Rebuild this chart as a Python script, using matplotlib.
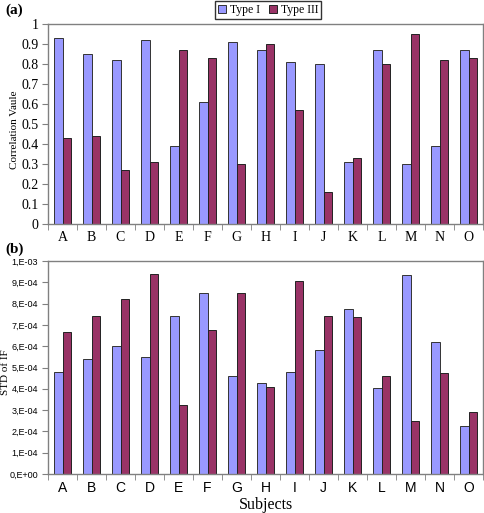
import matplotlib
matplotlib.use("Agg")
import matplotlib.pyplot as plt
import numpy as np
from matplotlib.ticker import FixedLocator

subjects = list("ABCDEFGHIJKLMNO")
corr_type1 = [0.93, 0.85, 0.82, 0.92, 0.39, 0.61, 0.91, 0.87, 0.81, 0.80, 0.31, 0.87, 0.30, 0.39, 0.87]
corr_type3 = [0.43, 0.44, 0.27, 0.31, 0.87, 0.83, 0.30, 0.90, 0.57, 0.16, 0.33, 0.80, 0.95, 0.82, 0.83]
std_type1 = [4.8e-4, 5.4e-4, 6.0e-4, 5.5e-4, 7.4e-4, 8.5e-4, 4.6e-4, 4.25e-4, 4.8e-4, 5.8e-4, 7.75e-4, 4.05e-4, 9.35e-4, 6.2e-4, 2.25e-4]
std_type3 = [6.65e-4, 7.4e-4, 8.2e-4, 9.4e-4, 3.25e-4, 6.75e-4, 8.5e-4, 4.1e-4, 9.05e-4, 7.4e-4, 7.35e-4, 4.6e-4, 2.5e-4, 4.75e-4, 2.9e-4]
corr_ticks = [0, 0.1, 0.2, 0.3, 0.4, 0.5, 0.6, 0.7, 0.8, 0.9, 1]
corr_labels = ["0", "0.1", "0.2", "0.3", "0.4", "0.5", "0.6", "0.7", "0.8", "0.9", "1"]
std_ticks = [0, 1e-4, 2e-4, 3e-4, 4e-4, 5e-4, 6e-4, 7e-4, 8e-4, 9e-4, 1e-3]
std_labels = ["0,E+00", "1,E-04", "2,E-04", "3,E-04", "4,E-04", "5,E-04", "6,E-04", "7,E-04", "8,E-04", "9,E-04", "1,E-03"]

c1 = "#9999FF"
c3 = "#993366"
serif = "Liberation Serif"
sans = "Liberation Sans"

fig = plt.figure(figsize=(4.84, 5.13), dpi=100)
ax1 = fig.add_axes([48/484, 1-224/513, 435/484, 200/513])
ax2 = fig.add_axes([48/484, 1-474/513, 435/484, 213/513])

x = np.arange(len(subjects))
w = 0.29

def style(ax, ylim, ticks):
    for s in ax.spines.values():
        s.set_color("#808080")
        s.set_linewidth(1.0)
    ax.set_xlim(-0.5, len(subjects) - 0.5)
    ax.set_ylim(*ylim)
    ax.yaxis.set_major_locator(FixedLocator(ticks))
    ax.set_xticks(x)
    ax.set_xticklabels(subjects)
    ax.tick_params(axis="x", which="major", length=0, pad=5)
    ax.set_xticks(np.arange(-0.5, len(subjects), 1.0), minor=True)
    ax.tick_params(axis="x", which="minor", length=4, color="#808080", direction="out")
    ax.tick_params(axis="y", length=4, color="#808080", direction="out", pad=3)

b1 = ax1.bar(x - w/2, corr_type1, w, color=c1, edgecolor="#333333", linewidth=0.7, label="Type I")
b3 = ax1.bar(x + w/2, corr_type3, w, color=c3, edgecolor="#222222", linewidth=0.7, label="Type III")
style(ax1, (0, 1), corr_ticks)
ax1.set_yticklabels(corr_labels, family=serif, fontsize=10)
for t in ax1.get_xticklabels():
    t.set_family(serif); t.set_fontsize(10)
ax1.set_ylabel("Correlation Vaule", family=serif, fontsize=8)
ax1.yaxis.set_label_coords(-29/435, 0.47)

ax2.bar(x - w/2, std_type1, w, color=c1, edgecolor="#333333", linewidth=0.7)
ax2.bar(x + w/2, std_type3, w, color=c3, edgecolor="#222222", linewidth=0.7)
style(ax2, (0, 1e-3), std_ticks)
ax2.set_yticklabels(std_labels, family=sans, fontsize=6.5)
for t in ax2.get_xticklabels():
    t.set_family(sans); t.set_fontsize(10)
ax2.set_ylabel("STD of IF", family=serif, fontsize=8)
ax2.yaxis.set_label_coords(-38/435, 0.48)
ax2.set_xlabel("Subjects", family=serif, fontsize=11.5)
ax2.xaxis.set_label_coords(0.5, -23/213)

fig.text(5/484, 1-10/513, "(a)", family=serif, fontsize=11, fontweight="bold", va="center")
fig.text(5/484, 1-249/513, "(b)", family=serif, fontsize=11, fontweight="bold", va="center")

leg = fig.legend(handles=[b1, b3], loc="center", bbox_to_anchor=(268/484, 1-10/513), ncol=2,
                 prop={"family": serif, "size": 8.5}, frameon=True, fancybox=False,
                 handlelength=0.7, handleheight=0.7, handletextpad=0.3, columnspacing=0.8,
                 borderpad=0.25, edgecolor="black")
leg.get_frame().set_linewidth(1.0)

fig.savefig("out.png", dpi=100)
